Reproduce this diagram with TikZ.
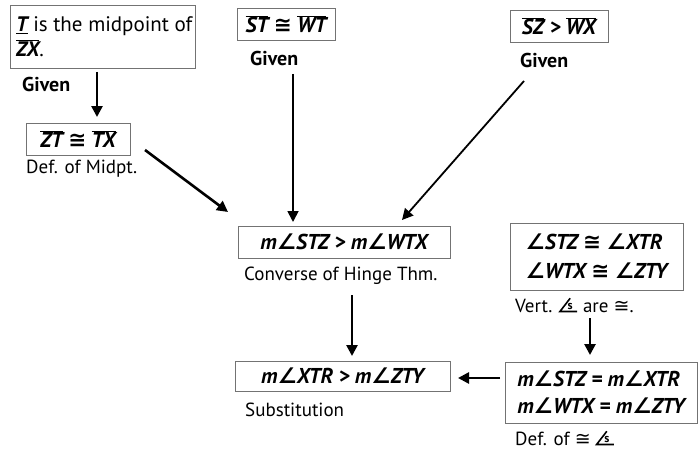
\documentclass[tikz,border=0pt]{standalone}
\usepackage{fontspec}
\setmainfont{PT Sans}
\newfontfamily\symf{DejaVu Sans}
\usetikzlibrary{arrows.meta}
\newcommand\ovl[1]{\ensuremath{\overline{\hbox{#1}}}}
\newcommand\ang{{\symf\bfseries\itshape ∠}}
\newcommand\cng{{\symf ≅}}
\newcommand\angs{\tikz[baseline=0pt,x=1pt,y=1pt]{\draw[line width=1.6pt, line join=miter] (11,14)--(0.8,0.8)--(18,0.8); \path (11,2.4) node[inner sep=0pt,anchor=base,font=\fontsize{12}{12}\selectfont\bfseries] {s};}}
\tikzset{
  pbox/.style={draw=black!55, line width=0.8pt, rectangle, inner sep=0pt, align=left},
  mtxt/.style={font=\fontsize{21.5}{29}\selectfont\bfseries\itshape},
  reason/.style={font=\fontsize{19}{22}\selectfont, anchor=west, inner sep=0pt},
  given/.style={font=\fontsize{20}{22}\selectfont\bfseries, anchor=west, inner sep=0pt},
  arr/.style={line width=2.6pt, -{Triangle[width=11pt,length=11pt]}},
}
\begin{document}
\begin{tikzpicture}[x=1pt,y=-1pt]
\useasboundingbox (0,0) rectangle (699,452);
% Box 1
\node[pbox, minimum width=185pt, minimum height=63pt] (b1) at (102.5,36.5) {};
\node[anchor=west, inner sep=0pt, font=\fontsize{21}{25}\selectfont, align=left] (t1) at (16,36.5)
  {{\bfseries\itshape\underline{T}} is the midpoint of\\{\bfseries\itshape\ovl{ZX}}.};
\node[given] (g1) at (22,85) {Given};
% Box 2
\node[pbox, minimum width=104pt, minimum height=32pt, mtxt] (b2) at (78,139) {\ovl{ZT} \cng{} \ovl{TX}};
\node[reason] (r2) at (26,169) {Def. of Midpt.};
% Box 3
\node[pbox, minimum width=98pt, minimum height=32pt, mtxt] (b3) at (286,24) {\ovl{ST} \cng{} \ovl{WT}};
\node[given] (g3) at (250,59) {Given};
% Box 4
\node[pbox, minimum width=98pt, minimum height=32pt, mtxt] (b4) at (559,26) {\ovl{SZ} > \ovl{WX}};
\node[given] (g4) at (520,61) {Given};
% Box 5
\node[pbox, minimum width=212pt, minimum height=32pt, mtxt] (b5) at (344,242) {m\ang STZ > m\ang WTX};
\node[reason] (r5) at (244,276) {Converse of Hinge Thm.};
% Box 6
\node[pbox, minimum width=173pt, minimum height=67pt, mtxt, align=left] (b6) at (596.5,256.5) {\ang STZ \cng{} \ang XTR\\\ang WTX \cng{} \ang ZTY};
\node[reason] (r6) at (515,305) {Vert. \angs{} are \cng.};
% Box 7
\node[pbox, minimum width=215pt, minimum height=30pt, mtxt] (b7) at (342.5,376) {m\ang XTR > m\ang ZTY};
\node[reason] (r7) at (245,410) {Substitution};
% Box 8
\node[pbox, minimum width=192pt, minimum height=61pt, mtxt, align=left] (b8) at (601,392.5) {m\ang STZ = m\ang XTR\\[-2pt]m\ang WTX = m\ang ZTY};
\node[reason] (r8) at (515,438) {Def. of \cng{} \angs};
% arrow anchor coordinates
\coordinate (a1s) at (97,72);  \coordinate (a1e) at (97,117);
\coordinate (a2s) at (145,150); \coordinate (a2e) at (228,212);
\coordinate (a3s) at (293,74); \coordinate (a3e) at (293,222);
\coordinate (a4s) at (524,81); \coordinate (a4e) at (402,220);
\coordinate (a5s) at (352,295); \coordinate (a5e) at (352,356);
\coordinate (a6s) at (590,318); \coordinate (a6e) at (590,355);
\coordinate (a7s) at (500,378); \coordinate (a7e) at (458,378);
\draw[arr] (a1s) -- (a1e);
\draw[arr] (a2s) -- (a2e);
\draw[arr, line width=1.8pt] (a3s) -- (a3e);
\draw[arr, line width=1.8pt] (a4s) -- (a4e);
\draw[arr] (a5s) -- (a5e);
\draw[arr] (a6s) -- (a6e);
\draw[arr] (a7s) -- (a7e);
\end{tikzpicture}
\end{document}
